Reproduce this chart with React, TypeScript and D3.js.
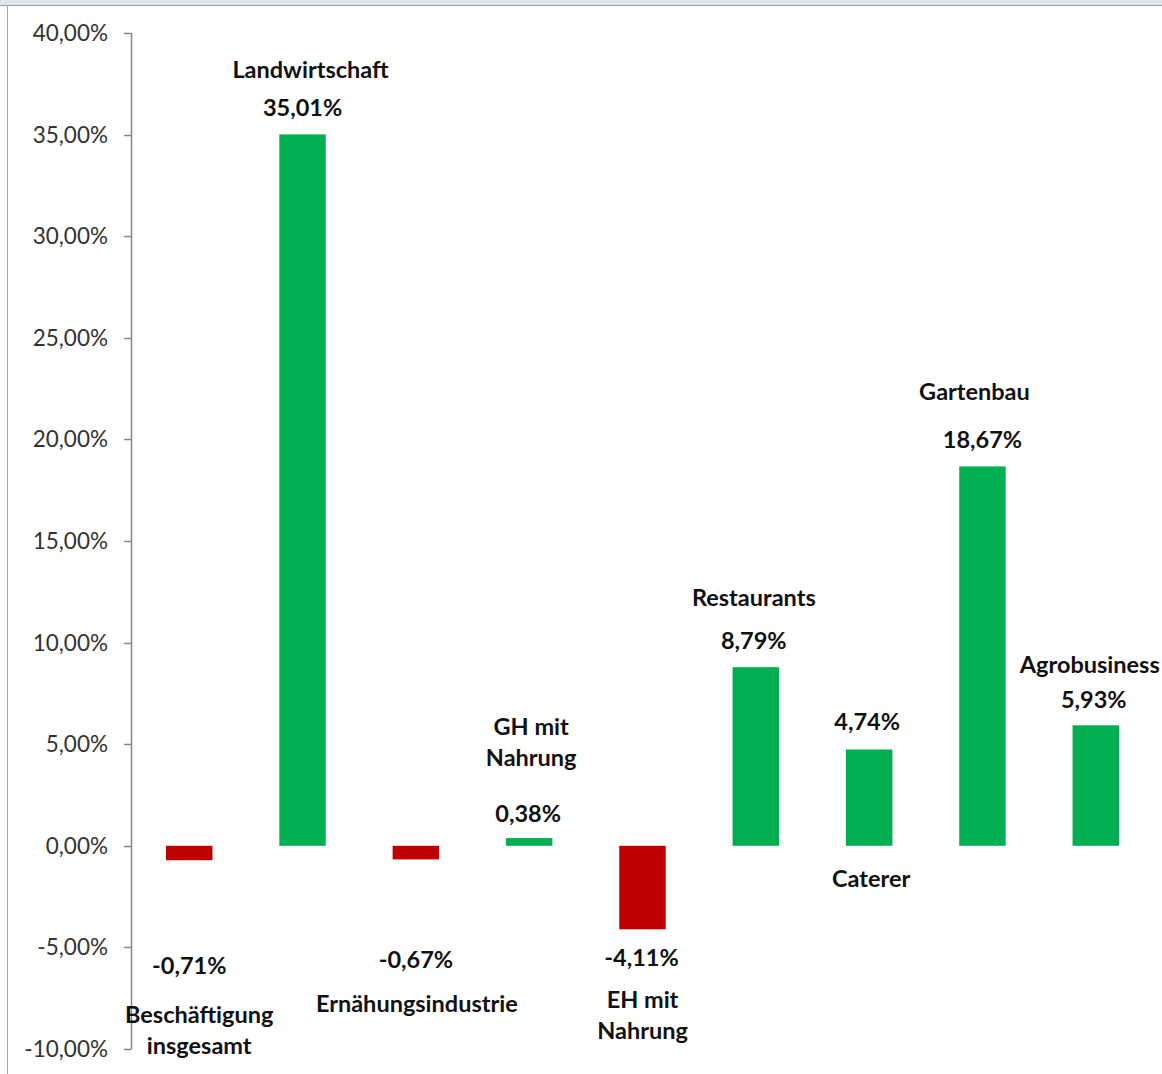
import React from "react";
import * as d3 from "d3";

const categories = [
  "Beschäftigung insgesamt",
  "Landwirtschaft",
  "Ernähungsindustrie",
  "GH mit Nahrung",
  "EH mit Nahrung",
  "Restaurants",
  "Caterer",
  "Gartenbau",
  "Agrobusiness",
];
const values = [-0.71, 35.01, -0.67, 0.38, -4.11, 8.79, 4.74, 18.67, 5.93];
const valueLabels = ["-0,71%", "35,01%", "-0,67%", "0,38%", "-4,11%", "8,79%", "4,74%", "18,67%", "5,93%"];
const nameLines = [
  ["Beschäftigung", "insgesamt"],
  ["Landwirtschaft"],
  ["Ernähungsindustrie"],
  ["GH mit", "Nahrung"],
  ["EH mit", "Nahrung"],
  ["Restaurants"],
  ["Caterer"],
  ["Gartenbau"],
  ["Agrobusiness"],
];
const yTicks = [-10, -5, 0, 5, 10, 15, 20, 25, 30, 35, 40];
const tickLabels = ["-10,00%", "-5,00%", "0,00%", "5,00%", "10,00%", "15,00%", "20,00%", "25,00%", "30,00%", "35,00%", "40,00%"];

// layout of labels (pixel offsets from bar center; baseline y in pixels)
const valueLayout = [
  { dx: 0, y: 974 },
  { dx: 0, y: 116 },
  { dx: 0, y: 968 },
  { dx: -1, y: 822 },
  { dx: -1, y: 966 },
  { dx: -2, y: 649 },
  { dx: -2, y: 730 },
  { dx: 0, y: 448 },
  { dx: -2, y: 708 },
];
const nameLayout = [
  { dx: 10, y: 1023 },
  { dx: 8, y: 78 },
  { dx: 1, y: 1012 },
  { dx: 2, y: 735 },
  { dx: 0, y: 1008 },
  { dx: -2, y: 606 },
  { dx: 2, y: 887 },
  { dx: -8, y: 400 },
  { dx: -6, y: 673 },
];

const W = 1162;
const H = 1074;
const GREEN = "#00b050";
const RED = "#c00000";
const FONT = "Lato, 'Open Sans', sans-serif";

export default function App() {
  const x = d3
    .scaleBand<string>()
    .domain(categories)
    .range([132, 1153])
    .paddingInner(0.59)
    .paddingOuter(0.3);
  const y = d3.scaleLinear().domain([-10, 40]).range([1049, 33]);
  const lineH = 31;

  return (
    <svg
      width={W}
      height={H}
      style={{ position: "absolute", left: 0, top: 0, background: "#fff" }}
      fontFamily={FONT}
    >
      <rect x={0} y={0} width={W} height={5} fill="#dfe5ec" />
      <line x1={0} x2={W} y1={5.5} y2={5.5} stroke="#9a9a9a" />
      <line x1={7.5} x2={7.5} y1={5} y2={H} stroke="#a8a8a8" />

      {/* axis */}
      <line x1={131.5} x2={131.5} y1={y(40)} y2={y(-10)} stroke="#868686" strokeWidth={1.5} />
      {yTicks.map((t, i) => (
        <g key={t}>
          <line x1={124} x2={131.5} y1={Math.round(y(t)) + 0.5} y2={Math.round(y(t)) + 0.5} stroke="#868686" strokeWidth={1.5} />
          <text x={108} y={y(t) + 8} textAnchor="end" fontSize={22.5} fill="#333">
            {tickLabels[i]}
          </text>
        </g>
      ))}

      {/* bars */}
      {categories.map((c, i) => {
        const v = values[i];
        const y0 = y(0);
        const y1 = y(v);
        return (
          <rect
            key={c}
            x={x(c)}
            width={x.bandwidth()}
            y={Math.min(y0, y1)}
            height={Math.abs(y1 - y0)}
            fill={v >= 0 ? GREEN : RED}
          />
        );
      })}

      {/* labels */}
      {categories.map((c, i) => {
        const cx = (x(c) as number) + x.bandwidth() / 2;
        return (
          <g key={c + "-lab"} fontWeight="bold" fontSize={23.5} fill="#111" textAnchor="middle">
            <text x={cx + valueLayout[i].dx} y={valueLayout[i].y}>
              {valueLabels[i]}
            </text>
            {nameLines[i].map((ln, j) => (
              <text key={j} x={cx + nameLayout[i].dx} y={nameLayout[i].y + j * lineH}>
                {ln}
              </text>
            ))}
          </g>
        );
      })}
    </svg>
  );
}
